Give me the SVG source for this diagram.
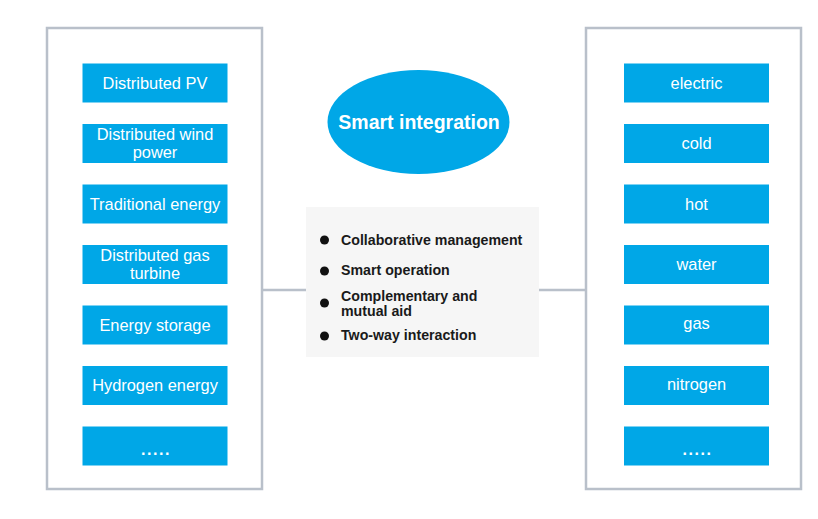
<svg xmlns="http://www.w3.org/2000/svg" width="818" height="519" viewBox="0 0 818 519">
<style>
.frame{fill:#fff;stroke:#b9c0ca;stroke-width:2.5}
.box{fill:#00a7e7}
.bt{font-family:"Liberation Sans",Arial,sans-serif;font-size:16.4px;fill:#fff;text-anchor:middle}
.dots{font-family:"Liberation Sans",Arial,sans-serif;font-size:16px;font-weight:bold;fill:#fff;text-anchor:middle;letter-spacing:1.6px}
.li{font-family:"Liberation Sans",Arial,sans-serif;font-size:14.2px;font-weight:bold;fill:#1a1a1a}
.conn{stroke:#b9c0ca;stroke-width:2.5;fill:none}
</style>
<rect width="818" height="519" fill="#fff"/>
<g id="connectors">
<line class="conn" x1="262" y1="290" x2="306" y2="290"/>
<line class="conn" x1="539" y1="290" x2="585" y2="290"/>
</g>
<g id="left-panel">
<rect class="frame" x="47" y="28" width="215" height="461"/>
<g id="l1"><rect class="box" x="82.5" y="63.5" width="145" height="39"/><text class="bt" x="155" y="89">Distributed PV</text></g>
<g id="l2"><rect class="box" x="82.5" y="124" width="145" height="39"/><text class="bt" x="155" y="140">Distributed wind</text><text class="bt" x="155" y="158">power</text></g>
<g id="l3"><rect class="box" x="82.5" y="184.5" width="145" height="39"/><text class="bt" x="155" y="210">Traditional energy</text></g>
<g id="l4"><rect class="box" x="82.5" y="245" width="145" height="39"/><text class="bt" x="155" y="261">Distributed gas</text><text class="bt" x="155" y="279">turbine</text></g>
<g id="l5"><rect class="box" x="82.5" y="305.5" width="145" height="39"/><text class="bt" x="155" y="331">Energy storage</text></g>
<g id="l6"><rect class="box" x="82.5" y="366" width="145" height="39"/><text class="bt" x="155" y="391">Hydrogen energy</text></g>
<g id="l7"><rect class="box" x="82.5" y="426.5" width="145" height="39"/><text class="dots" x="156" y="455">.....</text></g>
</g>
<g id="right-panel">
<rect class="frame" x="586" y="28" width="215" height="461"/>
<g id="r1"><rect class="box" x="624" y="63.5" width="145" height="39"/><text class="bt" x="696.5" y="89">electric</text></g>
<g id="r2"><rect class="box" x="624" y="124" width="145" height="39"/><text class="bt" x="696.5" y="149">cold</text></g>
<g id="r3"><rect class="box" x="624" y="184.5" width="145" height="39"/><text class="bt" x="696.5" y="210">hot</text></g>
<g id="r4"><rect class="box" x="624" y="245" width="145" height="39"/><text class="bt" x="696.5" y="270">water</text></g>
<g id="r5"><rect class="box" x="624" y="305.5" width="145" height="39"/><text class="bt" x="696.5" y="329">gas</text></g>
<g id="r6"><rect class="box" x="624" y="366" width="145" height="39"/><text class="bt" x="696.5" y="390">nitrogen</text></g>
<g id="r7"><rect class="box" x="624" y="426.5" width="145" height="39"/><text class="dots" x="697.5" y="455">.....</text></g>
</g>
<g id="smart-integration">
<ellipse cx="418.5" cy="122" rx="91" ry="52" fill="#00a7e7"/>
<text x="419" y="129" font-family="'Liberation Sans',Arial,sans-serif" font-size="19.5" font-weight="bold" fill="#fff" text-anchor="middle">Smart integration</text>
</g>
<g id="features">
<rect x="306" y="207" width="233" height="150" fill="#f6f6f6"/>
<circle cx="324.5" cy="240" r="4.5" fill="#111"/>
<text class="li" x="341" y="245">Collaborative management</text>
<circle cx="324.5" cy="271" r="4.5" fill="#111"/>
<text class="li" x="341" y="275">Smart operation</text>
<circle cx="324.5" cy="303" r="4.5" fill="#111"/>
<text class="li" x="341" y="301">Complementary and</text>
<text class="li" x="341" y="316">mutual aid</text>
<circle cx="324.5" cy="336" r="4.5" fill="#111"/>
<text class="li" x="341" y="340">Two-way interaction</text>
</g>
</svg>
